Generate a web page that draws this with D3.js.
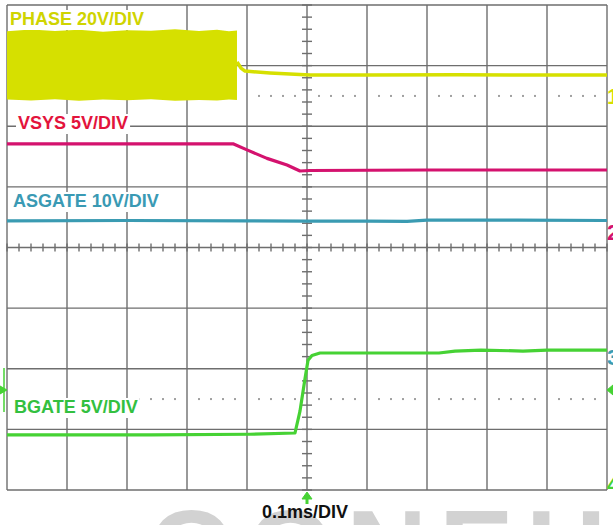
<!DOCTYPE html>
<html>
<head>
<meta charset="utf-8">
<script src="https://cdn.jsdelivr.net/npm/d3@7"></script>
<style>
  body { margin: 0; background: #fff; }
  svg { display: block; font-family: "Liberation Sans", Arial, sans-serif; }
</style>
</head>
<body>
<script>
// time in ms (0.1 ms/div, trigger at centre), voltages in volts
const msPerDiv = 0.1
const timebaseLabel = '0.1ms/DIV'

// channel setup: volts per div and ground position (in divs from centre)
const chNames = ['PHASE', 'VSYS', 'ASGATE', 'BGATE']
const chVoltsPerDiv = [20, 5, 10, 5]
const chGround = [2.5, 0.25, -1.8, -3.9]
const chLabels = ['PHASE 20V/DIV', 'VSYS 5V/DIV', 'ASGATE 10V/DIV', 'BGATE 5V/DIV']

// PHASE switching band (envelope), then the flat line after switching stops
const phaseBandT  = [-0.5, -0.46, -0.42, -0.38, -0.34, -0.3, -0.26, -0.22, -0.18, -0.15, -0.13, -0.1167]
const phaseBandHi = [21.3, 21.9, 21.4, 21.8, 21.2, 21.7, 21.5, 22.0, 21.4, 21.8, 21.3, 21.6]
const phaseBandLo = [-1.2, -1.5, -1.1, -1.6, -1.2, -1.4, -1.1, -1.6, -1.3, -1.5, -1.2, -1.3]
const phaseT = [-0.1167, -0.11, -0.1033, -0.0617, 0.005, 0.1, 0.25, 0.4, 0.5]
const phaseV = [11.2, 9.2, 8.2, 7.6, 6.9, 6.9, 7.0, 6.9, 6.9]

const vsysT = [-0.5, -0.3, -0.1233, -0.1, -0.0667, -0.0333, -0.0117, 0.005, 0.2, 0.5]
const vsysV = [7.3, 7.3, 7.3, 6.8, 6.1, 5.55, 5.06, 5.1, 5.14, 5.14]

const asgateT = [-0.5, -0.3, -0.1, 0.0, 0.1, 0.1667, 0.2, 0.35, 0.5]
const asgateV = [22.4, 22.45, 22.4, 22.35, 22.35, 22.3, 22.5, 22.5, 22.45]

const bgateT = [-0.5, -0.26, -0.095, -0.02, -0.0117, -0.0033, 0.0017, 0.0083, 0.0217, 0.09, 0.22, 0.2467, 0.29, 0.36, 0.4, 0.5]
const bgateV = [4.04, 4.04, 4.1, 4.2, 6.0, 8.7, 10.2, 10.6, 10.8, 10.8, 10.8, 10.96, 11.04, 10.96, 11.04, 11.04]

const watermark = 'OONEH'

const W = 613, H = 525
const svg = d3.select('body').append('svg').attr('width', W).attr('height', H)

const x = d3.scaleLinear().domain([-5 * msPerDiv, 5 * msPerDiv]).range([7, 607])
const y = d3.scaleLinear().domain([-4, 4]).range([490, 5]) // in divisions
const yv = (ch, v) => y(chGround[ch] + v / chVoltsPerDiv[ch])

// watermark at the very bottom
svg.append('text')
  .attr('x', 148).attr('y', 588)
  .attr('font-size', 112).attr('font-weight', 'bold')
  .attr('letter-spacing', 12)
  .attr('fill', '#d2d2d2')
  .text(watermark)

// ---- graticule
const grid = svg.append('g').attr('stroke', '#6e6e6e').attr('stroke-width', 1.4)
d3.range(-5, 6).forEach(d => {
  grid.append('line').attr('x1', x(d * msPerDiv)).attr('x2', x(d * msPerDiv)).attr('y1', y(-4)).attr('y2', y(4))
})
d3.range(-4, 5).forEach(d => {
  grid.append('line').attr('x1', x(-0.5)).attr('x2', x(0.5)).attr('y1', y(d)).attr('y2', y(d))
})
// minor ticks on the centre axes
d3.range(-5, 5.01, 0.2).forEach(d => {
  grid.append('line').attr('x1', x(d * msPerDiv)).attr('x2', x(d * msPerDiv)).attr('y1', y(0) - 4).attr('y2', y(0) + 4)
})
d3.range(-4, 4.01, 0.2).forEach(d => {
  grid.append('line').attr('x1', x(0) - 5).attr('x2', x(0) + 5).attr('y1', y(d)).attr('y2', y(d))
})
// dotted lines at +-2.5 div
const dots = svg.append('g').attr('fill', '#a0a0a0')
;[2.5, -2.5].forEach(lv => {
  d3.range(-5, 5, 0.2).forEach(d => {
    if (Math.abs(Math.round(d * 5) % 5) === 0) return
    dots.append('rect').attr('x', x(d * msPerDiv) - 1).attr('y', y(lv) - 1).attr('width', 2).attr('height', 2)
  })
})

// ---- traces
const line = d3.line().curve(d3.curveLinear)
const trace = (ch, T, V, color, w) => svg.append('path')
  .attr('d', line(T.map((t, i) => [x(t), yv(ch, V[i])])))
  .attr('fill', 'none').attr('stroke', color).attr('stroke-width', w)
  .attr('stroke-linejoin', 'round')

const area = d3.area()
  .x(d => x(d.t)).y0(d => yv(0, d.lo)).y1(d => yv(0, d.hi))
svg.append('path')
  .attr('d', area(phaseBandT.map((t, i) => ({ t, hi: phaseBandHi[i], lo: phaseBandLo[i] }))))
  .attr('fill', '#d6e000')

trace(0, phaseT, phaseV, '#d6e000', 3.5)
trace(1, vsysT, vsysV, '#d4126e', 3.2)
trace(2, asgateT, asgateV, '#3a9bb2', 3.2)
trace(3, bgateT, bgateV, '#46d234', 3.2)

// ---- channel labels on white boxes
const labelColors = ['#cfd400', '#e3143c', '#3a9ab4', '#33c040']
const labelPos = [[10, 25], [18, 129], [13, 207], [14, 413]]
chLabels.forEach((txt, i) => {
  const g = svg.append('g')
  const t = g.append('text')
    .attr('x', labelPos[i][0]).attr('y', labelPos[i][1])
    .attr('font-size', 18).attr('font-weight', 'bold')
    .attr('fill', labelColors[i]).text(txt)
  const b = t.node().getBBox()
  g.insert('rect', 'text')
    .attr('x', b.x - 2).attr('y', b.y + 1).attr('width', b.width + 4).attr('height', b.height)
    .attr('fill', '#fff')
})

// timebase label
svg.append('text')
  .attr('x', 262).attr('y', 518)
  .attr('font-size', 18).attr('font-weight', 'bold')
  .attr('fill', '#111').text(timebaseLabel)

// ---- channel ground markers on the right edge (clipped by the window)
const markerColors = ['#d6e000', '#d4126e', '#3a9bb2', '#46d234']
;['1', '2', '3', '4'].forEach((m, i) => {
  svg.append('text')
    .attr('x', 607).attr('y', y(chGround[i]) + 8)
    .attr('font-size', 22).attr('font-weight', 'bold')
    .attr('fill', markerColors[i]).text(m)
})

// trigger markers (green)
const trig = svg.append('g').attr('fill', '#46d234').attr('stroke', '#46d234')
const tx = x(0), ty = y(-2.35)
trig.append('path').attr('d', `M${tx - 5},${y(-4) + 9} L${tx},${y(-4) + 2} L${tx + 5},${y(-4) + 9} Z`)
trig.append('line').attr('x1', tx).attr('x2', tx).attr('y1', y(-4) + 6).attr('y2', y(-4) + 14).attr('stroke-width', 3)
trig.append('line').attr('x1', 4).attr('x2', 4).attr('y1', ty - 22).attr('y2', ty + 22).attr('stroke-width', 1.5)
trig.append('path').attr('d', `M0,${ty - 4} L7,${ty} L0,${ty + 4} Z`)
trig.append('path').attr('d', `M613,${ty - 5} L607,${ty} L613,${ty + 5} Z`)
</script>
</body>
</html>
